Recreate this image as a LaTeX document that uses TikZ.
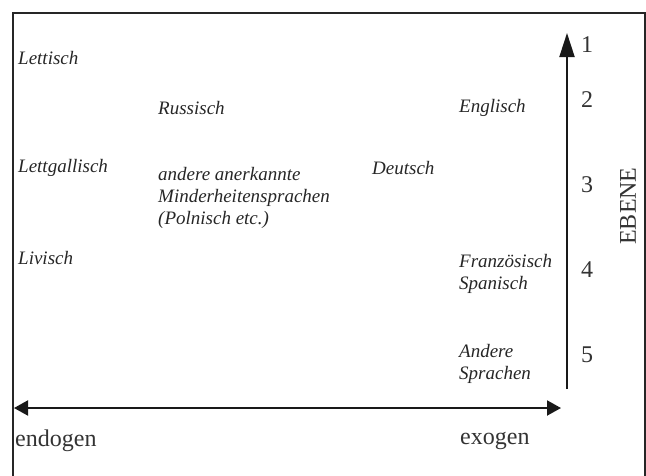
\documentclass[tikz,border=0pt]{standalone}
\usepackage{fontspec}
\setmainfont{Liberation Serif}
\usetikzlibrary{arrows.meta}
\begin{document}
\begin{tikzpicture}[x=1pt,y=-1pt,
  lang/.style={font=\fontsize{19}{22}\selectfont\itshape, inner sep=0pt, anchor=west, align=left, text=black!85},
  lvl/.style={font=\fontsize{24}{26}\selectfont, inner sep=0pt, text=black!80},
  axis/.style={line width=2pt, draw=black!90},
  frame/.style={line width=2.4pt, draw=black!85}]
\useasboundingbox (0,0) rectangle (646,475);
\draw[frame] (13,476) -- (13,13) -- (645,13) -- (645,476);
% languages
\node[lang] (lettisch) at (18,58) {Lettisch};
\node[lang] (russisch) at (158,108) {Russisch};
\node[lang] (englisch) at (459,108) {Englisch};
\node[lang] (lettgall) at (18,168) {Lettgallisch};
\node[lang] (minder) at (158,198) {andere anerkannte\\Minderheitensprachen\\(Polnisch etc.)};
\node[lang] (deutsch) at (372,168) {Deutsch};
\node[lang] (livisch) at (18,258) {Livisch};
\node[lang] (franz) at (459,274) {Französisch\\Spanisch};
\node[lang] (andere) at (459,364) {Andere\\Sprachen};
% axes
\coordinate (vtop) at (567,33);
\coordinate (vbot) at (567,389);
\coordinate (hl) at (14,408);
\coordinate (hr) at (561,408);
\draw[axis, -{Triangle[length=24pt,width=15pt]}] (vbot) -- (vtop);
\draw[axis, {Triangle[length=14pt,width=15pt]}-{Triangle[length=14pt,width=15pt]}] (hl) -- (hr);
% levels
\node[lvl] (l1) at (587,45) {1};
\node[lvl] (l2) at (587,100) {2};
\node[lvl] (l3) at (587,185) {3};
\node[lvl] (l4) at (587,270) {4};
\node[lvl] (l5) at (587,355) {5};
\node[lvl, rotate=90] (ebene) at (628,206) {EBENE};
\node[lvl, anchor=west] (endogen) at (15,441) {endogen};
\node[lvl, anchor=west] (exogen) at (460,441) {exogen};
\end{tikzpicture}
\end{document}
